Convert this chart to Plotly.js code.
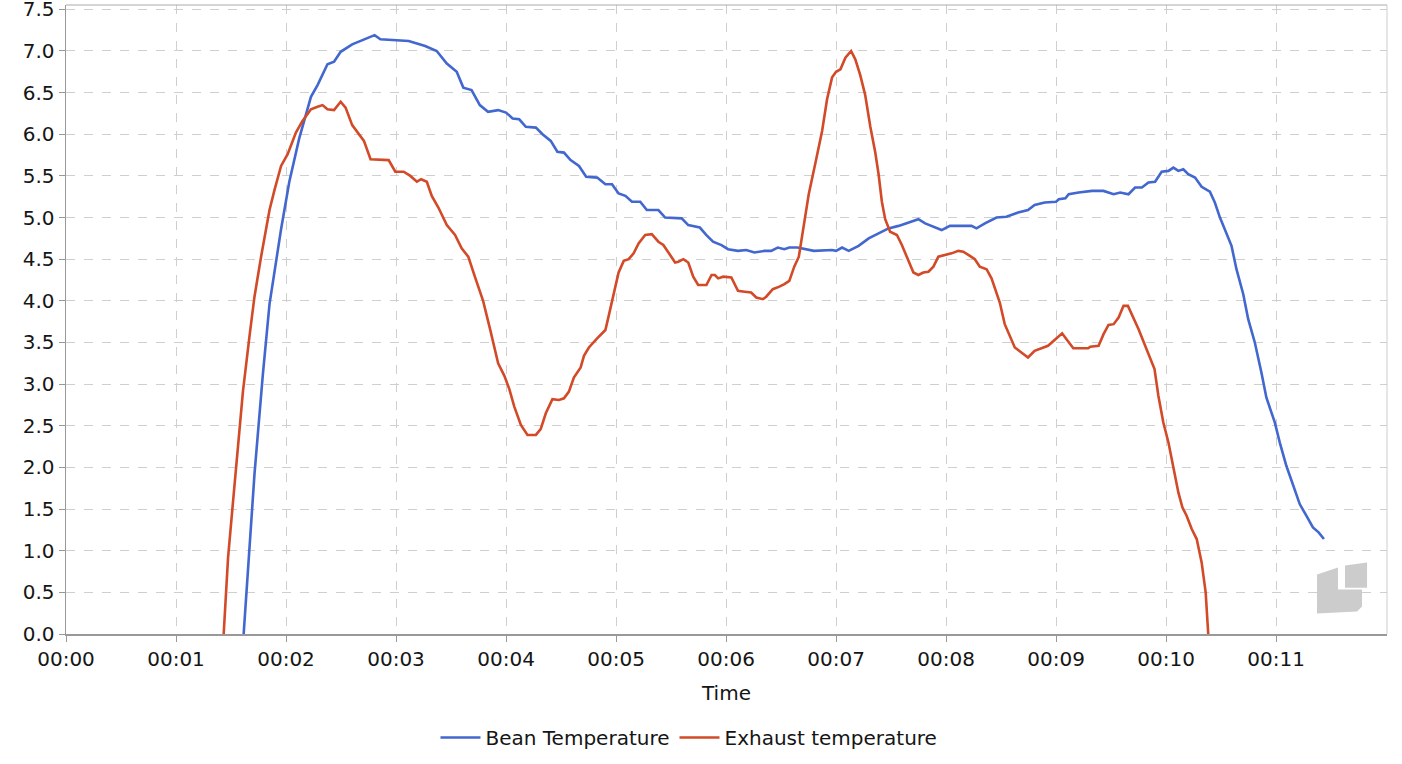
<!DOCTYPE html>
<html>
<head>
<meta charset="utf-8">
<script src="https://cdn.plot.ly/plotly-3.0.1.min.js"></script>
<style>
  html, body { margin: 0; padding: 0; background: #fff; }
  #chart { width: 1402px; height: 764px; }
</style>
</head>
<body>
<div id="chart"></div>
<script>
// x in seconds since start of roast
const beanTime = [
  96.9, 102.8, 107.3, 111, 117.3, 121.8, 127.2, 133.6, 137.2, 142.6,
  146.2, 149.8, 156.1, 161.6, 168.3, 171.5, 179.6, 186.9, 195.9, 202.2,
  207.7, 213.1, 216.7, 221.2, 225.7, 230.2, 235.7, 240, 243.6, 247.2,
  250.8, 256.3, 259.9, 264.4, 268, 271.6, 275.2, 279.8, 283.7, 289.7,
  294.2, 297.8, 301.4, 305.1, 308.7, 313.2, 316.8, 323.1, 326.8, 335.8,
  339.4, 345.7, 349.3, 352.9, 357.5, 361.1, 366.5, 371, 375.5, 381,
  384.6, 388.2, 391.8, 394.5, 399, 407.9, 417.8, 420, 423.3, 426.9,
  432.3, 437.8, 443.2, 448.6, 454.1, 459.5, 464.9, 468.6, 474, 477.6,
  482.1, 493.9, 496.6, 501.2, 507.5, 512.9, 519.3, 524.7, 528.3, 533.8,
  540, 541.5, 545.1, 546.9, 552.3, 559.6, 565.9, 571.4, 575, 579.5,
  583.1, 586.8, 590.4, 594, 597.6, 601.3, 604, 606.7, 609.4, 612.1,
  615.8, 619.4, 623.9, 626.6, 629.4, 632.1, 635.7, 638.4, 642.1, 644.8,
  648.4, 652, 654.7, 659.3, 662, 665.6, 669.2, 672.9, 676.5, 680.1,
  683.2, 686.1
];
const beanTemp = [
  0, 1.92, 3.10, 3.96, 4.86, 5.43, 5.95, 6.45, 6.59, 6.84,
  6.87, 6.99, 7.08, 7.13, 7.19, 7.14, 7.13, 7.12, 7.06, 7.0,
  6.85, 6.75, 6.56, 6.53, 6.35, 6.27, 6.29, 6.26, 6.19, 6.18,
  6.09, 6.08, 6.0, 5.92, 5.79, 5.78, 5.69, 5.62, 5.49, 5.48,
  5.40, 5.40, 5.29, 5.26, 5.19, 5.19, 5.09, 5.09, 5.0, 4.99,
  4.91, 4.88, 4.79, 4.71, 4.67, 4.62, 4.60, 4.61, 4.58, 4.60,
  4.60, 4.64, 4.62, 4.64, 4.64, 4.60, 4.61, 4.60, 4.64, 4.60,
  4.66, 4.75, 4.81, 4.87, 4.90, 4.94, 4.98, 4.93, 4.88, 4.85,
  4.90, 4.90, 4.87, 4.93, 5.0, 5.01, 5.06, 5.09, 5.15, 5.18,
  5.19, 5.22, 5.23, 5.28, 5.30, 5.32, 5.32, 5.28, 5.30, 5.28,
  5.36, 5.36, 5.42, 5.43, 5.55, 5.56, 5.60, 5.56, 5.58, 5.52,
  5.48, 5.37, 5.31, 5.18, 5.0, 4.86, 4.66, 4.38, 4.08, 3.78,
  3.50, 3.14, 2.84, 2.54, 2.30, 2.02, 1.78, 1.56, 1.42, 1.28,
  1.22, 1.14
];

const exhaustTime = [
  86, 88.4, 91.1, 93.8, 96.5, 100.1, 102.8, 106.4, 111, 113.7,
  117.3, 120.9, 125.4, 129, 133.6, 137.2, 139.9, 142.6, 146.2, 149.8,
  152.5, 156.1, 159.8, 162.5, 166.1, 176, 179.6, 184.2, 187.8, 191.4,
  193.7, 196.8, 199.5, 203.1, 207.7, 212.2, 215.8, 219.4, 223, 227.5,
  231.2, 235.7, 239.1, 241.8, 244.5, 248.1, 251.7, 256.3, 258.9, 261.7,
  265.3, 268.9, 271.6, 274.3, 277, 280.7, 282.5, 285.2, 289.7, 294.2,
  296, 298.7, 301.4, 304.2, 306.9, 309.6, 312.3, 315.9, 319.5, 323.1,
  325.8, 329.5, 332.2, 334, 336.7, 339.4, 342.1, 344.8, 349.3, 352.1,
  353.9, 355.7, 358.4, 362.9, 366.5, 370.1, 373.7, 376.5, 380.1, 381.9,
  385.5, 389.1, 391.8, 394.5, 397.2, 399.7, 402.4, 405.1, 408.8, 412.4,
  415.1, 417.8, 420, 422.4, 425.1, 428.2, 430.5, 433.2, 435.9, 438.7,
  441.4, 443.2, 445, 446.8, 449.5, 453.2, 455.9, 458.6, 462.2, 464.9,
  467.6, 470.4, 473.1, 475.8, 479.4, 483, 486.7, 489.4, 493, 495.7,
  498.4, 502.1, 504.8, 506.6, 509.3, 512, 514.7, 517.5, 521.1, 524.7,
  528.3, 532, 535.6, 539.2, 543.3, 546, 549.4, 557.5, 558.7, 563.2,
  565.9, 568.6, 571.4, 574.1, 576.8, 579.2, 582.2, 585, 588.6, 591.3,
  593.7, 595.8, 598.5, 601.3, 604, 606.7, 608.9, 611.2, 614, 616.7,
  619.4, 621.6, 623
];
const exhaustTemp = [
  0, 0.92, 1.59, 2.30, 2.91, 3.58, 4.05, 4.53, 5.09, 5.33,
  5.62, 5.76, 6.02, 6.16, 6.30, 6.33, 6.35, 6.30, 6.29, 6.39,
  6.32, 6.11, 6.0, 5.92, 5.70, 5.69, 5.55, 5.55, 5.50, 5.43,
  5.46, 5.43, 5.26, 5.12, 4.91, 4.79, 4.63, 4.53, 4.29, 4.0,
  3.67, 3.25, 3.10, 2.94, 2.73, 2.51, 2.39, 2.39, 2.46, 2.65,
  2.82, 2.81, 2.83, 2.91, 3.08, 3.20, 3.34, 3.44, 3.55, 3.65,
  3.82, 4.10, 4.34, 4.48, 4.50, 4.57, 4.69, 4.79, 4.80, 4.71,
  4.67, 4.55, 4.46, 4.47, 4.50, 4.46, 4.29, 4.19, 4.19, 4.31,
  4.31, 4.27, 4.29, 4.28, 4.12, 4.11, 4.10, 4.04, 4.02, 4.05,
  4.14, 4.17, 4.20, 4.24, 4.41, 4.53, 4.91, 5.28, 5.66, 6.04,
  6.42, 6.68, 6.75, 6.78, 6.92, 7.0, 6.90, 6.71, 6.47, 6.09,
  5.78, 5.52, 5.19, 4.98, 4.83, 4.79, 4.67, 4.53, 4.34, 4.31,
  4.34, 4.35, 4.41, 4.53, 4.55, 4.57, 4.60, 4.59, 4.54, 4.50,
  4.41, 4.38, 4.27, 4.15, 3.98, 3.72, 3.58, 3.44, 3.38, 3.32,
  3.40, 3.43, 3.46, 3.53, 3.61, 3.53, 3.43, 3.43, 3.45, 3.46,
  3.60, 3.71, 3.72, 3.80, 3.94, 3.94, 3.80, 3.66, 3.46, 3.32,
  3.18, 2.86, 2.54, 2.30, 1.98, 1.70, 1.52, 1.42, 1.26, 1.14,
  0.86, 0.50, 0
];

const tickSeconds = [0, 60, 120, 180, 240, 300, 360, 420, 480, 540, 600, 660];
const tickLabels = ['00:00', '00:01', '00:02', '00:03', '00:04', '00:05',
  '00:06', '00:07', '00:08', '00:09', '00:10', '00:11'];
const seriesNames = ['Bean Temperature', 'Exhaust temperature'];

const font = { family: 'DejaVu Sans, sans-serif', size: 20, color: '#151515' };

const traces = [
  {
    x: beanTime, y: beanTemp, name: seriesNames[0],
    type: 'scatter', mode: 'lines',
    line: { color: '#4267cf', width: 2.6 }
  },
  {
    x: exhaustTime, y: exhaustTemp, name: seriesNames[1],
    type: 'scatter', mode: 'lines',
    line: { color: '#d24a27', width: 2.6 }
  }
];

const gridStyle = { showgrid: true, gridcolor: '#cfcfcf', gridwidth: 1, griddash: 'dash' };

const layout = {
  width: 1402,
  height: 764,
  margin: { l: 66, r: 15, t: 5, b: 130 },
  paper_bgcolor: '#fff',
  plot_bgcolor: '#fff',
  font: font,
  showlegend: true,
  legend: {
    orientation: 'h',
    x: 0.4716, xanchor: 'center',
    y: -0.1646, yanchor: 'middle',
    itemwidth: 40,
    font: font
  },
  xaxis: Object.assign({
    range: [0, 720.5],
    tickvals: tickSeconds,
    ticktext: tickLabels,
    ticks: 'outside', ticklen: 6, tickcolor: '#999',
    showline: true, linecolor: '#999', linewidth: 1.5,
    zeroline: false,
    title: { text: 'Time', font: font, standoff: 16 }
  }, gridStyle),
  yaxis: Object.assign({
    range: [0, 7.552],
    dtick: 0.5, tick0: 0,
    tickformat: '.1f',
    ticklabeloverflow: 'allow',
    ticks: 'outside', ticklen: 6, tickcolor: '#999',
    showline: true, linecolor: '#999', linewidth: 1.5,
    zeroline: false
  }, gridStyle),
  shapes: [
    // frame: top and right edges
    { type: 'line', xref: 'paper', yref: 'paper', x0: 0, x1: 1, y0: 1, y1: 1,
      line: { color: '#aaa', width: 1 } },
    { type: 'line', xref: 'paper', yref: 'paper', x0: 1, x1: 1, y0: 0, y1: 1,
      line: { color: '#ccc', width: 1 } },
    // watermark logo, bottom right
    { type: 'path', xref: 'paper', yref: 'paper', layer: 'above',
      path: 'M 0.9470 0.0946 L 0.9629 0.1057 L 0.9629 0.0707 L 0.9811 0.0707 ' +
            'L 0.9811 0.0437 L 0.9773 0.0357 L 0.9470 0.0326 Z',
      fillcolor: '#cccccc', line: { width: 0 } },
    { type: 'path', xref: 'paper', yref: 'paper', layer: 'above',
      path: 'M 0.9682 0.1089 L 0.9849 0.1137 L 0.9849 0.0737 L 0.9682 0.0737 Z',
      fillcolor: '#cccccc', line: { width: 0 } }
  ]
};

Plotly.newPlot('chart', traces, layout, { displayModeBar: false, staticPlot: true });
</script>
</body>
</html>
